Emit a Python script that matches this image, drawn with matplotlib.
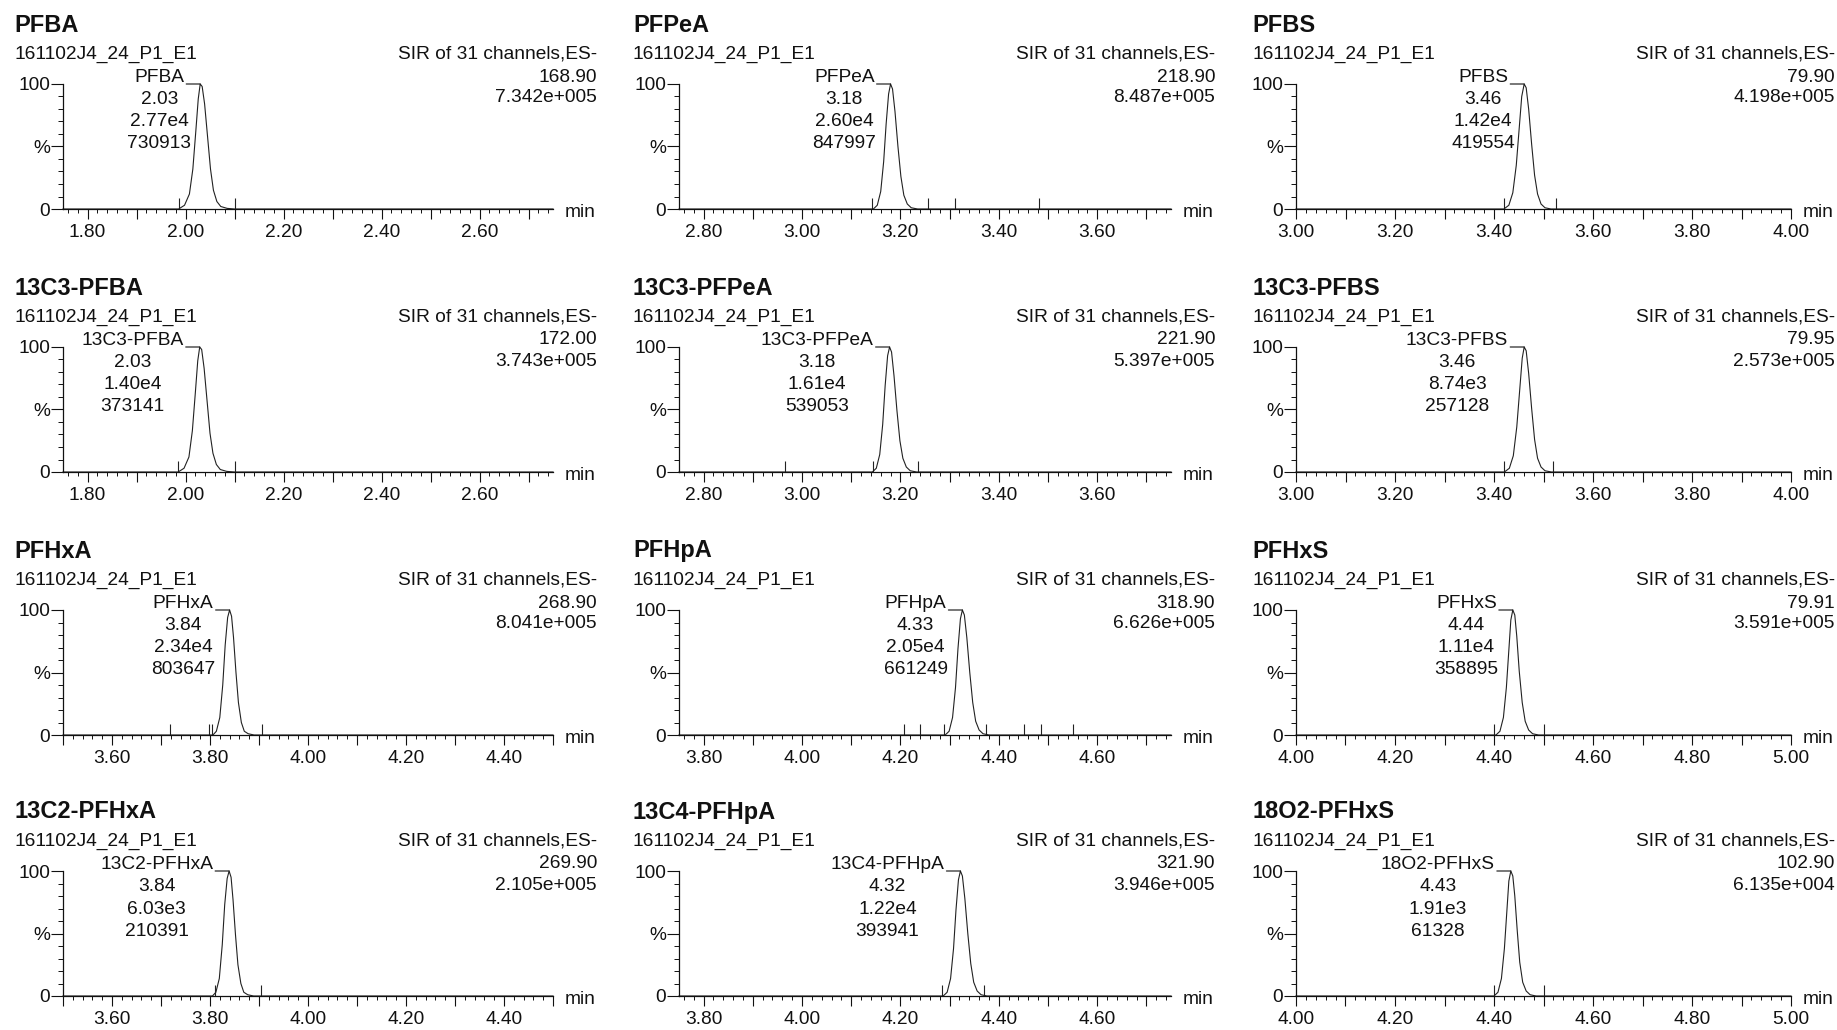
import matplotlib
matplotlib.use("Agg")
import matplotlib.pyplot as plt
from matplotlib.ticker import MultipleLocator, FuncFormatter, FixedLocator

plt.rcParams['font.family'] = ['Liberation Sans', 'DejaVu Sans']

# ---------------- data ----------------
sample_name = "161102J4_24_P1_E1"
function_label = "SIR of 31 channels,ES-"

compounds = ["PFBA", "PFPeA", "PFBS",
             "13C3-PFBA", "13C3-PFPeA", "13C3-PFBS",
             "PFHxA", "PFHpA", "PFHxS",
             "13C2-PFHxA", "13C4-PFHpA", "18O2-PFHxS"]
channels = ["168.90", "218.90", "79.90",
            "172.00", "221.90", "79.95",
            "268.90", "318.90", "79.91",
            "269.90", "321.90", "102.90"]
max_intensity = ["7.342e+005", "8.487e+005", "4.198e+005",
                 "3.743e+005", "5.397e+005", "2.573e+005",
                 "8.041e+005", "6.626e+005", "3.591e+005",
                 "2.105e+005", "3.946e+005", "6.135e+004"]
rt_labels = ["2.03", "3.18", "3.46", "2.03", "3.18", "3.46",
             "3.84", "4.33", "4.44", "3.84", "4.32", "4.43"]
peak_heights = ["2.77e4", "2.60e4", "1.42e4", "1.40e4", "1.61e4", "8.74e3",
                "2.34e4", "2.05e4", "1.11e4", "6.03e3", "1.22e4", "1.91e3"]
peak_areas = ["730913", "847997", "419554", "373141", "539053", "257128",
              "803647", "661249", "358895", "210391", "393941", "61328"]

x_start = [1.75, 2.75, 3.00, 1.75, 2.75, 3.00, 3.50, 3.75, 4.00, 3.50, 3.75, 4.00]
x_end   = [2.75, 3.75, 4.00, 2.75, 3.75, 4.00, 4.50, 4.75, 5.00, 4.50, 4.75, 5.00]

trace_t = [
    [1.750, 1.986, 1.998, 2.008, 2.015, 2.021, 2.026, 2.030, 2.034, 2.039, 2.045, 2.051, 2.057, 2.064, 2.072, 2.085, 2.100, 2.750],
    [2.750, 3.145, 3.153, 3.160, 3.166, 3.171, 3.176, 3.180, 3.184, 3.189, 3.195, 3.201, 3.207, 3.214, 3.222, 3.235, 3.750],
    [3.000, 3.420, 3.430, 3.438, 3.445, 3.451, 3.456, 3.461, 3.465, 3.470, 3.476, 3.482, 3.488, 3.495, 3.503, 3.515, 4.000],
    [1.750, 1.985, 1.997, 2.007, 2.014, 2.020, 2.025, 2.029, 2.033, 2.038, 2.044, 2.050, 2.056, 2.063, 2.071, 2.084, 2.100, 2.750],
    [2.750, 3.143, 3.151, 3.158, 3.164, 3.169, 3.174, 3.178, 3.182, 3.187, 3.193, 3.199, 3.205, 3.212, 3.220, 3.233, 3.750],
    [3.000, 3.421, 3.431, 3.439, 3.446, 3.452, 3.457, 3.461, 3.465, 3.470, 3.476, 3.482, 3.488, 3.495, 3.503, 3.516, 4.000],
    [3.500, 3.806, 3.813, 3.820, 3.826, 3.831, 3.836, 3.840, 3.844, 3.848, 3.853, 3.858, 3.864, 3.870, 3.878, 3.890, 4.500],
    [3.750, 4.291, 4.299, 4.306, 4.312, 4.317, 4.322, 4.326, 4.330, 4.335, 4.341, 4.347, 4.353, 4.360, 4.368, 4.380, 4.750],
    [4.000, 4.404, 4.412, 4.419, 4.425, 4.430, 4.434, 4.438, 4.442, 4.446, 4.451, 4.457, 4.463, 4.470, 4.478, 4.490, 5.000],
    [3.500, 3.805, 3.812, 3.819, 3.825, 3.830, 3.835, 3.839, 3.843, 3.847, 3.852, 3.857, 3.863, 3.869, 3.877, 3.889, 4.500],
    [3.750, 4.287, 4.295, 4.302, 4.308, 4.313, 4.318, 4.322, 4.326, 4.331, 4.337, 4.343, 4.349, 4.356, 4.364, 4.376, 4.750],
    [4.000, 4.400, 4.408, 4.415, 4.421, 4.426, 4.430, 4.434, 4.438, 4.442, 4.447, 4.452, 4.458, 4.465, 4.473, 4.485, 5.000],
]
trace_y = [
    [0, 0, 3, 12, 32, 62, 88, 100, 98, 84, 58, 32, 15, 6, 2, 0.5, 0, 0],
    [0, 0, 3, 14, 38, 68, 92, 100, 96, 78, 50, 26, 11, 4, 1, 0, 0],
    [0, 0, 3, 13, 35, 65, 90, 100, 97, 80, 52, 27, 12, 4, 1, 0, 0],
    [0, 0, 3, 12, 33, 63, 89, 100, 98, 83, 57, 31, 15, 6, 2, 0.5, 0, 0],
    [0, 0, 3, 14, 38, 69, 93, 100, 96, 77, 49, 25, 11, 4, 1, 0, 0],
    [0, 0, 3, 13, 36, 66, 91, 100, 97, 79, 51, 26, 11, 4, 1, 0, 0],
    [0, 0, 3, 14, 40, 72, 94, 100, 95, 78, 50, 26, 10, 3, 1, 0, 0],
    [0, 0, 3, 14, 38, 69, 93, 100, 96, 78, 50, 26, 11, 4, 1, 0, 0],
    [0, 0, 3, 14, 38, 68, 92, 100, 96, 79, 51, 26, 11, 4, 1, 0, 0],
    [0, 0, 3, 14, 41, 73, 94, 100, 95, 77, 49, 25, 10, 3, 1, 0, 0],
    [0, 0, 3, 14, 38, 69, 93, 100, 96, 78, 50, 26, 11, 4, 1, 0, 0],
    [0, 0, 3, 14, 38, 68, 92, 100, 96, 80, 52, 27, 11, 4, 1, 0, 0],
]
integration_marks = [
    [1.986, 2.100],
    [3.142, 3.257, 3.310, 3.481],
    [3.420, 3.526],
    [1.985, 2.100],
    [2.965, 3.145, 3.235],
    [3.420, 3.520],
    [3.719, 3.797, 3.804, 3.906],
    [4.208, 4.239, 4.288, 4.373, 4.451, 4.485, 4.550],
    [4.401, 4.500],
    [3.810, 3.905],
    [4.284, 4.370],
    [4.400, 4.500],
]

# ---------------- layout (pixels) ----------------
W, H, DPI = 1837, 1030, 100
col_left = [63, 679, 1296]
col_width = [490, 492, 495]
text_left = [14, 633, 1252]
text_right = [597, 1215, 1835]
row_base = [209, 472, 735, 996]
axis_h = 125

FS = 13.8
FS_T = 17
INK = '#111111'
PX = 72.0 / DPI  # points per pixel

fig = plt.figure(figsize=(W / DPI, H / DPI), dpi=DPI)
fig.patch.set_facecolor('white')
renderer = fig.canvas.get_renderer()


def ftext(x, y, s, **kw):
    return fig.text(x / W, 1 - y / H, s, color=INK, **kw)


def xlab(v, pos):
    k = v * 5
    return f'{v:.2f}' if abs(k - round(k)) < 1e-6 else ''


for i in range(12):
    r, c = divmod(i, 3)
    l, w, b = col_left[c], col_width[c], row_base[r]
    ax = fig.add_axes([l / W, 1 - b / H, w / W, axis_h / H])
    ax.set_xlim(x_start[i], x_end[i])
    ax.set_ylim(0, 100)
    ax.patch.set_alpha(0)
    for s in ['top', 'right']:
        ax.spines[s].set_visible(False)
    for s in ['left', 'bottom']:
        ax.spines[s].set_linewidth(0.9)
        ax.spines[s].set_color(INK)

    ax.xaxis.set_major_locator(MultipleLocator(0.1))
    ax.xaxis.set_minor_locator(MultipleLocator(0.02))
    ax.xaxis.set_major_formatter(FuncFormatter(xlab))
    ax.tick_params(axis='x', which='major', length=10 * PX, width=0.8, color=INK,
                   labelsize=FS, pad=3.5, labelcolor=INK)
    ax.tick_params(axis='x', which='minor', length=4 * PX, width=0.7, color=INK)

    ax.yaxis.set_major_locator(FixedLocator([0, 50, 100]))
    ax.yaxis.set_minor_locator(MultipleLocator(10))
    ax.set_yticklabels(['0', '%', '100'])
    ax.tick_params(axis='y', which='major', length=12 * PX, width=0.8, color=INK,
                   labelsize=FS, pad=0.5, labelcolor=INK)
    ax.tick_params(axis='y', which='minor', length=5 * PX, width=0.7, color=INK)

    # chromatogram trace
    ax.plot(trace_t[i], trace_y[i], color='#222222', lw=0.8, clip_on=False,
            solid_joinstyle='round')
    # integration markers
    ax.vlines(integration_marks[i], 0, 9, color='#222222', lw=0.8)

    # peak annotation
    ymax = max(trace_y[i])
    apex = trace_t[i][trace_y[i].index(ymax)]
    t1 = ax.annotate(compounds[i], xy=(apex, 100), xytext=(-16, 2),
                     textcoords='offset pixels', ha='right', va='baseline',
                     fontsize=FS, color=INK, annotation_clip=False)
    ax.annotate('', xy=(apex, 100), xytext=(-14, 0), textcoords='offset pixels',
                arrowprops=dict(arrowstyle='-', lw=0.8, color=INK,
                                shrinkA=0, shrinkB=0),
                annotation_clip=False)
    wid = t1.get_window_extent(renderer).width
    cx = -16 - wid / 2
    line_dy = [-20.0, -42.5, -64.5]
    for k, s in enumerate([rt_labels[i], peak_heights[i], peak_areas[i]]):
        ax.annotate(s, xy=(apex, 100), xytext=(cx, line_dy[k]),
                    textcoords='offset pixels', ha='center', va='baseline',
                    fontsize=FS, color=INK, annotation_clip=False)

    # "min" unit label
    ftext(l + w + 12, b + 8, 'min', fontsize=FS, ha='left', va='baseline')

    # header texts
    ftext(text_left[c], b - 177.5, compounds[i], fontsize=FS_T, fontweight='bold',
          ha='left', va='baseline')
    ftext(text_left[c], b - 150.5, sample_name, fontsize=FS, ha='left', va='baseline')
    ftext(text_right[c], b - 150.5, function_label, fontsize=FS, ha='right', va='baseline')
    ftext(text_right[c], b - 127.5, channels[i], fontsize=FS, ha='right', va='baseline')
    ftext(text_right[c], b - 106.5, max_intensity[i], fontsize=FS, ha='right', va='baseline')

fig.savefig('out.png', dpi=DPI, facecolor='white')
